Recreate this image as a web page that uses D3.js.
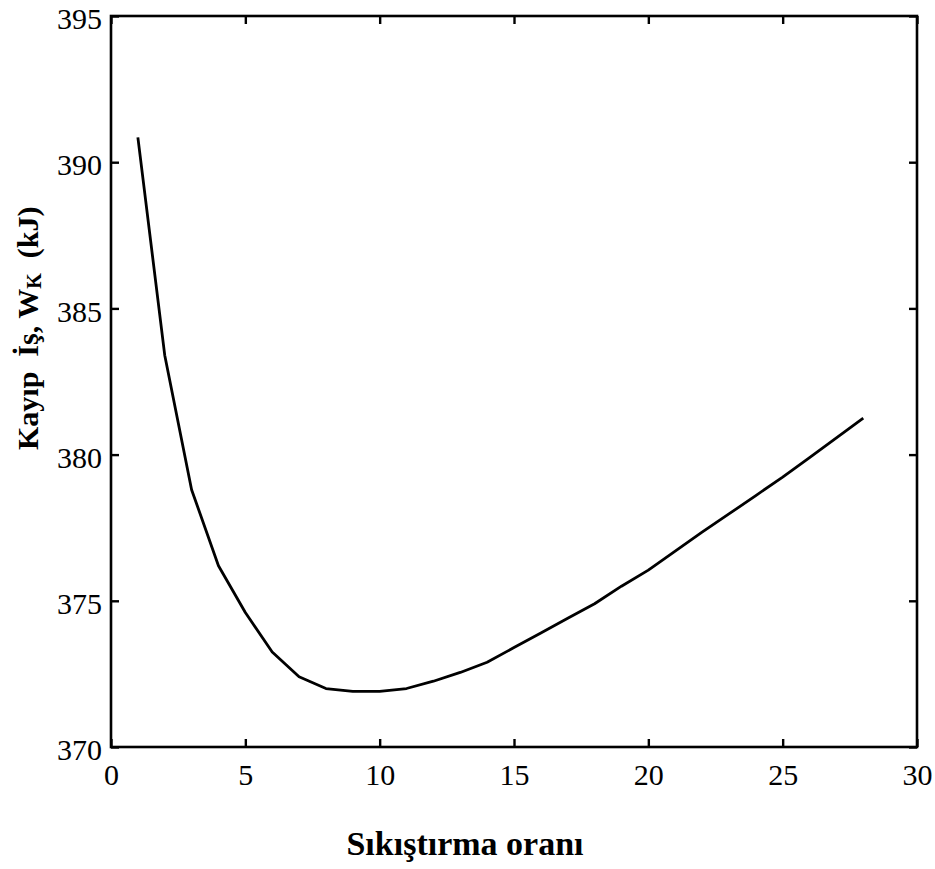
<!DOCTYPE html>
<html>
<head>
<meta charset="utf-8">
<script src="https://cdn.jsdelivr.net/npm/d3@7"></script>
<style>
  html, body { margin: 0; padding: 0; background: #fff; }
  svg { display: block; }
  text { font-family: "Liberation Serif", "Times New Roman", serif; fill: #000; }
</style>
</head>
<body>
<script>
// ---- data ----
const ratio = [1, 2, 3, 4, 5, 6, 7, 8, 9, 10, 11, 12, 13, 14, 15, 16, 17, 18, 19, 20, 21, 22, 23, 24, 25, 26, 27, 28];
const lostWork = [390.85, 383.4, 378.8, 376.2, 374.6, 373.25, 372.4, 372.0, 371.9, 371.9, 372.0, 372.25, 372.55, 372.9, 373.4, 373.9, 374.4, 374.9, 375.5, 376.05, 376.7, 377.35, 377.97, 378.6, 379.23, 379.9, 380.57, 381.25];
const xTicks = [0, 5, 10, 15, 20, 25, 30];
const yTicks = [370, 375, 380, 385, 390, 395];
const xTitle = "Sıkıştırma oranı";

const W = 935, H = 869;
const mLeft = 111, mRight = 917, mTop = 16, mBottom = 747;

const svg = d3.select("body").append("svg").attr("width", W).attr("height", H);

const x = d3.scaleLinear().domain([0, 30]).range([mLeft, mRight]);
const y = d3.scaleLinear().domain([370, 395]).range([mBottom, mTop]);

// frame
svg.append("rect")
  .attr("x", mLeft).attr("y", mTop)
  .attr("width", mRight - mLeft).attr("height", mBottom - mTop)
  .attr("fill", "none").attr("stroke", "#000").attr("stroke-width", 2.6);

const tickLen = 8;
// bottom axis
const gx = svg.append("g").attr("transform", `translate(0,${mBottom})`)
  .call(d3.axisBottom(x).tickValues(xTicks).tickSize(-tickLen).tickPadding(0).tickFormat(d3.format("d")));
gx.select(".domain").remove();
gx.selectAll(".tick line").attr("stroke", "#000").attr("stroke-width", 2.4);
gx.selectAll(".tick text").attr("font-size", 30).attr("dy", null).attr("y", 38)
  .style("font-family", "Liberation Serif, serif");

// top ticks
const gxt = svg.append("g").attr("transform", `translate(0,${mTop})`)
  .call(d3.axisTop(x).tickValues(xTicks).tickSize(-tickLen).tickFormat(""));
gxt.select(".domain").remove();
gxt.selectAll(".tick line").attr("stroke", "#000").attr("stroke-width", 2.4);

// left axis
const gy = svg.append("g").attr("transform", `translate(${mLeft},0)`)
  .call(d3.axisLeft(y).tickValues(yTicks).tickSize(-tickLen).tickPadding(9).tickFormat(d3.format("d")));
gy.select(".domain").remove();
gy.selectAll(".tick line").attr("stroke", "#000").attr("stroke-width", 2.4);
gy.selectAll(".tick text").attr("font-size", 30).attr("dy", "0.42em")
  .style("font-family", "Liberation Serif, serif");

// right ticks
const gyr = svg.append("g").attr("transform", `translate(${mRight},0)`)
  .call(d3.axisRight(y).tickValues(yTicks).tickSize(-tickLen).tickFormat(""));
gyr.select(".domain").remove();
gyr.selectAll(".tick line").attr("stroke", "#000").attr("stroke-width", 2.4);

// curve
const line = d3.line().x((d, i) => x(ratio[i])).y(d => y(d));
svg.append("path")
  .datum(lostWork)
  .attr("d", line)
  .attr("fill", "none")
  .attr("stroke", "#000")
  .attr("stroke-width", 2.8)
  .attr("stroke-linejoin", "round");

// x title
svg.append("text")
  .attr("x", 465).attr("y", 855)
  .attr("text-anchor", "middle")
  .attr("font-size", 34).attr("font-weight", "bold")
  .text(xTitle);

// y title (rotated)
const yt = svg.append("text")
  .attr("transform", "translate(38,450) rotate(-90)")
  .attr("text-anchor", "start")
  .attr("font-size", 30).attr("font-weight", "bold")
  .style("white-space", "pre");
yt.append("tspan").text("Kayıp  İş, W");
yt.append("tspan").attr("font-size", 20).attr("dy", 3).text("K");
yt.append("tspan").attr("dy", -3).text("  (kJ)");
</script>
</body>
</html>
